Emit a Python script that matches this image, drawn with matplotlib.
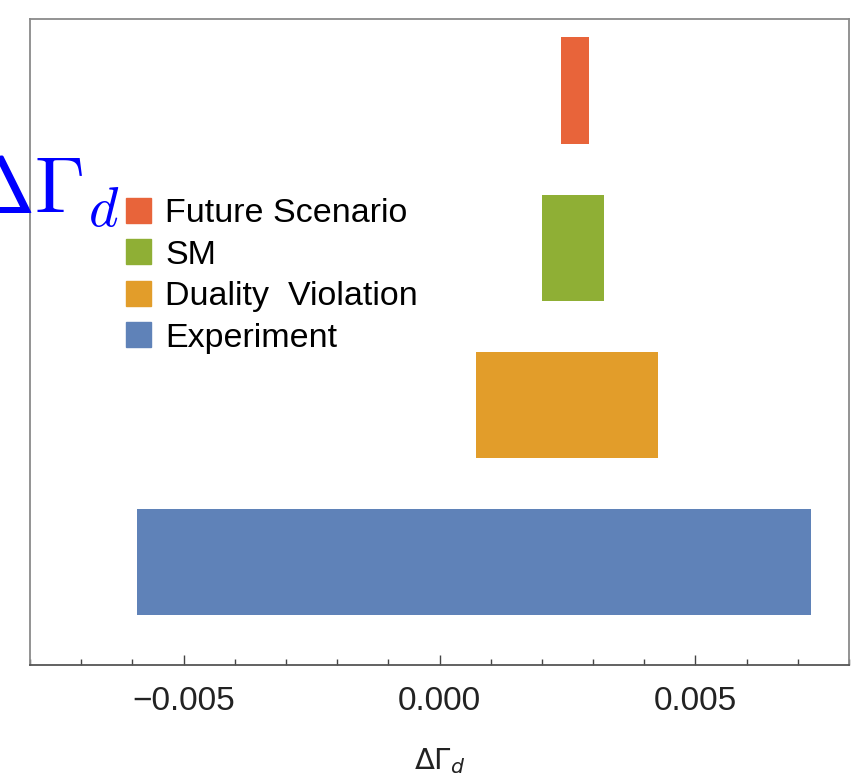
import numpy as np
import matplotlib
matplotlib.use('Agg')
import matplotlib.pyplot as plt
import matplotlib.patches as mpatches
from matplotlib.ticker import MultipleLocator, FixedLocator

''' interval bars for Delta Gamma_d '''

labels = ['Experiment', 'Duality  Violation', 'SM', 'Future Scenario']
lows = [-0.00591, 0.00071, 0.00200, 0.00237]
highs = [0.00726, 0.00427, 0.00321, 0.00292]
colors = ['#5F82B8', '#E29D2A', '#8FAF35', '#E8643A']

major_ticks = [-0.005, 0.0, 0.005]
major_labels = ['\u22120.005', '0.000', '0.005']

plt.rcParams['font.family'] = ['Liberation Sans', 'DejaVu Sans']

fig = plt.figure(figsize=(8.51, 7.73), dpi=100)
ax = fig.add_axes([30/851., 1-665/773., 819/851., 646/773.])

pos = np.arange(1, len(labels)+1)
lows = np.array(lows)
highs = np.array(highs)
bars = ax.barh(pos, highs-lows, left=lows, height=0.675, color=colors,
               edgecolor='none')

ax.set_xlim(-0.008, 0.008)
ax.set_ylim(0.345, 4.455)

ax.set_yticks([])
ax.xaxis.set_major_locator(FixedLocator(major_ticks))
ax.set_xticklabels(major_labels)
ax.xaxis.set_minor_locator(MultipleLocator(0.001))
ax.tick_params(axis='x', which='major', direction='in', length=7, width=1,
               color='#444444', labelsize=24, pad=15, labelcolor='#222222')
ax.tick_params(axis='x', which='minor', direction='in', length=4, width=1,
               color='#444444')

for s in ax.spines.values():
    s.set_color('#8a8a8a')
    s.set_linewidth(1.3)
ax.spines['bottom'].set_color('#555555')

ax.set_xlabel(r'$\Delta\Gamma_d$', fontsize=21, labelpad=21, color='#222222')

# legend, top entry first
handles = [mpatches.Patch(color=colors[i], label=labels[i]) for i in range(3, -1, -1)]
leg = fig.legend(handles=handles, loc='upper left',
                 bbox_to_anchor=(126/851., 1-198/773.), frameon=False,
                 fontsize=24.5, handlelength=0.74, handleheight=0.74,
                 handletextpad=0.42, labelspacing=0.3, borderpad=0,
                 borderaxespad=0)

# big blue label at top left (partly cut off)
fig.text(-33/851., 1-213/773., r'$\Delta\Gamma_d$', fontsize=58,
         color='#0000FF', math_fontfamily='cm', ha='left', va='baseline')

plt.savefig('out.png', dpi=100)
